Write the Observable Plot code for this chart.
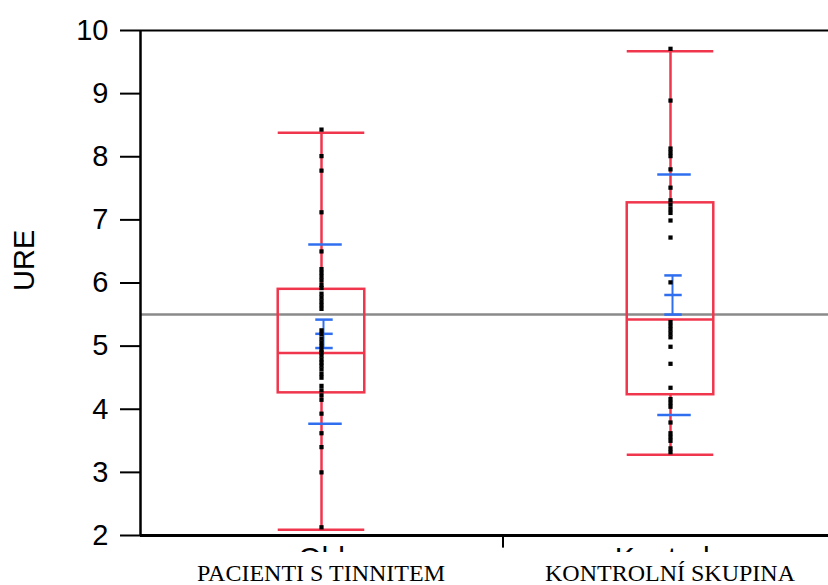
<!DOCTYPE html>
<html><head><meta charset="utf-8">
<script src="https://cdn.jsdelivr.net/npm/d3@7"></script>
<script src="https://cdn.jsdelivr.net/npm/@observablehq/plot@0.6"></script>
<style>
body{margin:0;background:#fff;}
#wrap{position:relative;width:828px;height:585px;overflow:hidden;background:#fff;}
#chart svg{overflow:hidden;}
#groups{position:absolute;left:0;top:562px;width:828px;height:22px;font-family:"Liberation Serif","Times New Roman",serif;font-size:24px;line-height:22px;color:#000;}
#groups span{position:absolute;top:0;transform:translateX(-50%);white-space:nowrap;}
</style></head><body><div id="wrap"><div id="chart"></div><div id="groups"></div></div>
<script>
// ---- data ----
const groups = ["PACIENTI S TINNITEM", "KONTROLNÍ SKUPINA"];
const axisNames = ["Ohl", "Kontrola"];
const yTicks = [2, 3, 4, 5, 6, 7, 8, 9, 10];
const whiskerLow = [2.09, 3.28];
const q1 = [4.26, 4.23];
const median = [4.89, 5.42];
const q3 = [5.90, 7.27];
const whiskerHigh = [8.38, 9.67];
const meanVal = [5.195, 5.81];
const ciLow = [4.97, 5.50];
const ciHigh = [5.42, 6.12];
const sdLow = [3.77, 3.91];
const sdHigh = [6.61, 7.72];
const grandMean = [5.5];
const separators = [0.52];
const pacienti = [8.43, 8.01, 7.78, 7.12, 6.50, 6.22, 6.16, 6.10, 6.04, 5.97, 5.92, 5.83, 5.77, 5.71, 5.65, 5.59,
  5.25, 5.19, 5.12, 5.06, 5.00, 4.94, 4.90, 4.85, 4.79, 4.74, 4.69, 4.63, 4.56, 4.50,
  4.37, 4.30, 4.22, 4.15, 3.93, 3.62, 3.40, 3.00, 2.13];
const kontrola = [9.71, 8.89, 8.13, 8.07, 8.01, 7.80, 7.51, 7.31, 7.24, 7.17, 7.11, 6.99, 6.72, 6.01,
  5.38, 5.32, 5.26, 5.20, 5.14, 4.99, 4.72, 4.34, 4.16, 4.10, 4.04, 3.79, 3.62, 3.56, 3.50, 3.38, 3.32];

// ---- build ----
const RED = "#f0364c", BLUE = "#2f6fef", GREY = "#8a8a8a";
const BW = 0.124, SDW = 0.048, CIW = 0.025;
const xDomain = [-0.5186, 1.4527];
const stats = groups.map((g, i) => ({i, lo: whiskerLow[i], q1: q1[i], med: median[i], q3: q3[i], hi: whiskerHigh[i],
  mean: meanVal[i], ciLo: ciLow[i], ciHi: ciHigh[i], sdLo: sdLow[i], sdHi: sdHigh[i]}));
const points = [...pacienti.map(v => ({i: 0, v})), ...kontrola.map(v => ({i: 1, v}))];

const chart = Plot.plot({
  width: 828, height: 552,
  marginLeft: 140, marginRight: 0, marginTop: 30, marginBottom: 17,
  style: {fontFamily: "'Liberation Sans', Arial, sans-serif", background: "#fff", color: "#000"},
  x: {domain: xDomain, axis: null},
  y: {domain: [2, 10], axis: null},
  marks: [
    Plot.ruleY(grandMean, {stroke: GREY, strokeWidth: 2.5}),
    // red box plots
    Plot.ruleX(stats, {x: "i", y1: "q3", y2: "hi", stroke: RED, strokeWidth: 2.5}),
    Plot.ruleX(stats, {x: "i", y1: "lo", y2: "q1", stroke: RED, strokeWidth: 2.5}),
    Plot.rect(stats, {x1: d => d.i - BW, x2: d => d.i + BW, y1: "q1", y2: "q3", fill: "none", stroke: RED, strokeWidth: 2.5}),
    Plot.ruleY(stats, {y: "med", x1: d => d.i - BW, x2: d => d.i + BW, stroke: RED, strokeWidth: 2.5}),
    Plot.ruleY(stats, {y: "lo", x1: d => d.i - BW, x2: d => d.i + BW, stroke: RED, strokeWidth: 2.5}),
    Plot.ruleY(stats, {y: "hi", x1: d => d.i - BW, x2: d => d.i + BW, stroke: RED, strokeWidth: 2.5}),
    // blue mean / sd
    Plot.ruleY(stats, {y: "sdLo", x1: d => d.i - SDW, x2: d => d.i + SDW, dx: 4, stroke: BLUE, strokeWidth: 2.5}),
    Plot.ruleY(stats, {y: "sdHi", x1: d => d.i - SDW, x2: d => d.i + SDW, dx: 4, stroke: BLUE, strokeWidth: 2.5}),
    Plot.ruleX(stats, {x: "i", y1: "ciLo", y2: "ciHi", dx: 2, stroke: BLUE, strokeWidth: 2}),
    Plot.ruleY(stats, {y: "ciLo", x1: d => d.i - CIW, x2: d => d.i + CIW, dx: 3, stroke: BLUE, strokeWidth: 2.5}),
    Plot.ruleY(stats, {y: "mean", x1: d => d.i - CIW, x2: d => d.i + CIW, dx: 3, stroke: BLUE, strokeWidth: 2.5}),
    Plot.ruleY(stats, {y: "ciHi", x1: d => d.i - CIW, x2: d => d.i + CIW, dx: 3, stroke: BLUE, strokeWidth: 2.5}),
    // points
    Plot.dot(points, {x: "i", y: "v", symbol: "square", r: 2.4, fill: "#000", stroke: "none"}),
    // frame
    Plot.ruleY([2], {stroke: "#000", strokeWidth: 3}),
    Plot.ruleY([10], {stroke: "#000", strokeWidth: 2}),
    Plot.ruleX([xDomain[0]], {y1: 2, y2: 10, stroke: "#000", strokeWidth: 2.5}),
    Plot.ruleX(separators, {y1: 2, y2: 1.8, stroke: "#000", strokeWidth: 2}),
    Plot.axisY(yTicks, {tickSize: 20, tickPadding: 12, fontSize: 29, strokeWidth: 2, stroke: "#000", label: null, tickFormat: d => String(d)}),
    Plot.axisX(groups.map((g, i) => i), {tickFormat: i => axisNames[i], tickSize: 0, tickPadding: 11, fontSize: 30, label: null}),
    Plot.text(["URE"], {frameAnchor: "left", rotate: -90, dx: -116, dy: 8, fontSize: 29, fill: "#000"})
  ]
});
document.getElementById("chart").appendChild(chart);
const xs = chart.scale("x");
const gdiv = document.getElementById("groups");
groups.forEach((g, i) => {
  const s = document.createElement("span");
  s.textContent = g;
  s.style.left = xs.apply(i) + "px";
  gdiv.appendChild(s);
});
</script>
</body></html>
